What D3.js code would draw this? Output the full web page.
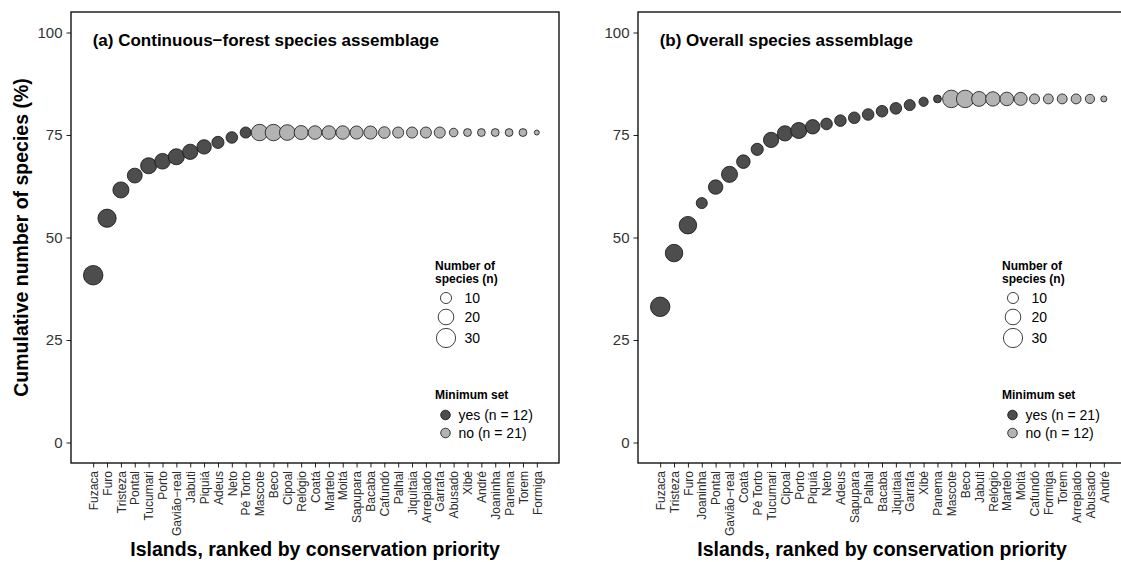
<!DOCTYPE html>
<html>
<head>
<meta charset="utf-8">
<script src="https://cdn.jsdelivr.net/npm/d3@7/dist/d3.min.js"></script>
<style>
  html, body { margin: 0; padding: 0; background: #fff; }
  svg { display: block; font-family: "Liberation Sans", Arial, Helvetica, sans-serif; }
</style>
</head>
<body>
<svg id="chart" width="1121" height="562"></svg>
<script>
// Panel (a): continuous-forest species assemblage
const islandsA = ["Fuzaca","Furo","Tristeza","Pontal","Tucumari","Porto","Gavião−real","Jabuti","Piquiá","Adeus","Neto","Pé Torto","Mascote","Beco","Cipoal","Relógio","Coatá","Martelo","Moitá","Sapupara","Bacaba","Cafundó","Palhal","Jiquitaia","Arrepiado","Garrafa","Abusado","Xibé","André","Joaninha","Panema","Torem","Formiga"];
const cumulativeA = [40.8,54.7,61.6,65.1,67.5,68.6,69.7,70.9,72.1,73.2,74.4,75.6,75.6,75.6,75.6,75.6,75.6,75.6,75.6,75.6,75.6,75.6,75.6,75.6,75.6,75.6,75.6,75.6,75.6,75.6,75.6,75.6,75.6];
const speciesA = [31,27,21,18,21,20,21,19,17,12,11,10,22,22,20,16,15,15,15,14,14,11,10,10,10,10,6,5,5,5,5,5,2];
const minSetA = [1,1,1,1,1,1,1,1,1,1,1,1,0,0,0,0,0,0,0,0,0,0,0,0,0,0,0,0,0,0,0,0,0];

// Panel (b): overall species assemblage
const islandsB = ["Fuzaca","Tristeza","Furo","Joaninha","Pontal","Gavião−real","Coatá","Pé Torto","Tucumari","Cipoal","Porto","Piquiá","Neto","Adeus","Sapupara","Palhal","Bacaba","Jiquitaia","Garrafa","Xibé","Panema","Mascote","Beco","Jabuti","Relógio","Martelo","Moitá","Cafundó","Formiga","Torem","Arrepiado","Abusado","André"];
const cumulativeB = [33.1,46.2,53.0,58.4,62.3,65.4,68.5,71.5,73.8,75.4,76.1,77.0,77.7,78.5,79.2,80.0,80.8,81.5,82.3,83.1,83.8,83.8,83.8,83.8,83.8,83.8,83.8,83.8,83.8,83.8,83.8,83.8,83.8];
const speciesB = [31,25,25,10,17,21,15,12,19,19,21,17,11,11,11,11,11,11,10,7,5,25,25,18,17,15,14,8,8,8,8,7,3];
const minSetB = [1,1,1,1,1,1,1,1,1,1,1,1,1,1,1,1,1,1,1,1,1,0,0,0,0,0,0,0,0,0,0,0,0];

const yTicks = [0, 25, 50, 75, 100];
const sizeBreaks = [10, 20, 30];

const panels = [
  { left: 71,  title: "(a) Continuous−forest species assemblage", islands: islandsA, cum: cumulativeA, n: speciesA, set: minSetA, yes: "yes (n = 12)", no: "no (n = 21)", yTitle: true },
  { left: 638, title: "(b) Overall species assemblage", islands: islandsB, cum: cumulativeB, n: speciesB, set: minSetB, yes: "yes (n = 21)", no: "no (n = 12)", yTitle: false }
];

const panelW = 488, panelTop = 12, panelBottom = 463;
const fillYes = "#4d4d4d", fillNo = "#b3b3b3";
const svg = d3.select("#chart");

const y = d3.scaleLinear().domain([-5, 105]).range([panelBottom, panelTop]);
const r = d3.scaleSqrt().domain([0, 30]).range([0, 9.6]);

panels.forEach(p => {
  const x = d3.scaleLinear().domain([-0.6, 34.6]).range([p.left, p.left + panelW]);
  const g = svg.append("g");

  // y axis
  const ya = g.append("g").attr("transform", `translate(${p.left},0)`)
    .call(d3.axisLeft(y).tickValues(yTicks).tickSize(4.5).tickPadding(4));
  ya.select(".domain").remove();
  ya.selectAll("text").style("font-size", "15px").attr("fill", "#333");
  ya.selectAll("line").attr("stroke", "#222").attr("stroke-width", 1);

  // x axis with rotated island names
  const xa = g.append("g").attr("transform", `translate(0,${panelBottom})`)
    .call(d3.axisBottom(x).tickValues(d3.range(1, 34)).tickSize(4.5)
      .tickFormat(i => p.islands[i - 1]));
  xa.select(".domain").remove();
  xa.selectAll("line").attr("stroke", "#222").attr("stroke-width", 1);
  xa.selectAll("text")
    .attr("transform", "rotate(-90)")
    .attr("x", -8).attr("y", 0).attr("dy", "0.35em")
    .style("text-anchor", "end")
    .style("font-size", "12px")
    .attr("fill", "#2a2a2a");

  // points, drawn in rank order so later islands overlap earlier ones
  const data = p.islands.map((name, i) => ({ i: i + 1, v: p.cum[i], n: p.n[i], s: p.set[i] }));
  g.append("g").selectAll("circle").data(data).join("circle")
    .attr("cx", d => x(d.i)).attr("cy", d => y(d.v)).attr("r", d => r(d.n))
    .attr("fill", d => d.s ? fillYes : fillNo)
    .attr("stroke", "#111").attr("stroke-width", 0.8);

  // panel border
  g.append("rect").attr("x", p.left).attr("y", panelTop).attr("width", panelW).attr("height", panelBottom - panelTop)
    .attr("fill", "none").attr("stroke", "#000").attr("stroke-width", 1.3);

  // panel title
  g.append("text").attr("x", p.left + 21.7).attr("y", 46)
    .style("font-size", "17px").style("font-weight", "bold").text(p.title);

  // x axis title
  g.append("text").attr("x", p.left + panelW / 2).attr("y", 556).attr("text-anchor", "middle")
    .style("font-size", "19.5px").style("font-weight", "bold")
    .text("Islands, ranked by conservation priority");

  if (p.yTitle) {
    g.append("text").attr("transform", `translate(21,${(panelTop + panelBottom) / 2}) rotate(-90)`)
      .attr("dy", "0.35em").attr("text-anchor", "middle")
      .style("font-size", "19.5px").style("font-weight", "bold")
      .text("Cumulative number of species (%)");
  }

  // legends
  const lg = g.append("g").attr("transform", `translate(${p.left + 364},0)`);
  lg.append("text").attr("x", 0).attr("y", 270).style("font-size", "12px").style("font-weight", "bold").text("Number of");
  lg.append("text").attr("x", 0).attr("y", 283).style("font-size", "12px").style("font-weight", "bold").text("species (n)");
  const sizeY = [298, 317, 338];
  sizeBreaks.forEach((b, k) => {
    lg.append("circle").attr("cx", 11).attr("cy", sizeY[k]).attr("r", r(b))
      .attr("fill", "#fff").attr("stroke", "#111").attr("stroke-width", 0.8);
    lg.append("text").attr("x", 29.5).attr("y", sizeY[k]).attr("dy", "0.35em")
      .style("font-size", "14px").text(b);
  });
  lg.append("text").attr("x", 0).attr("y", 399).style("font-size", "12px").style("font-weight", "bold").text("Minimum set");
  [[p.yes, fillYes, 415], [p.no, fillNo, 433]].forEach(([lab, col, yy]) => {
    lg.append("circle").attr("cx", 10.5).attr("cy", yy).attr("r", 4.8)
      .attr("fill", col).attr("stroke", "#111").attr("stroke-width", 0.8);
    lg.append("text").attr("x", 23.5).attr("y", yy).attr("dy", "0.35em")
      .style("font-size", "14px").text(lab);
  });
});
</script>
</body>
</html>
